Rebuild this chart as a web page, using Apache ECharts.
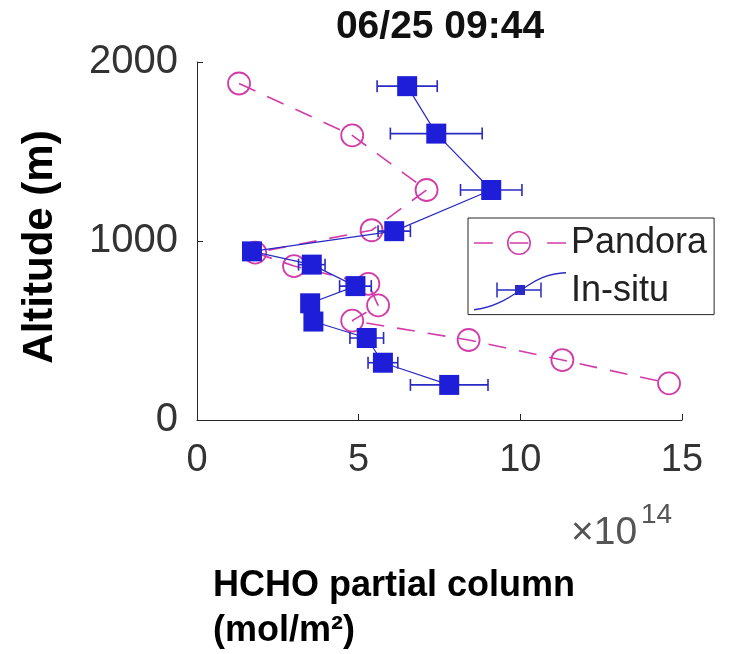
<!DOCTYPE html>
<html>
<head>
<meta charset="utf-8">
<script src="https://cdn.jsdelivr.net/npm/echarts@6/dist/echarts.min.js"></script>
<style>
html, body { margin: 0; padding: 0; background: #fff; }
#chart { width: 732px; height: 654px; }
</style>
</head>
<body>
<div id="chart"></div>
<script>
// 数据：Pandora 反演的分层柱浓度（单位 1e14 mol/m2）与高度
const pandoraX = [1.3, 4.8, 7.1, 5.4, 1.8, 3.0, 5.3, 5.6, 4.8, 8.4, 11.3, 14.6];
const pandoraAlt = [1880, 1590, 1285, 1060, 935, 860, 760, 640, 555, 447, 335, 205];
// 飞机实测数据及误差
const insituX = [6.5, 7.4, 9.1, 6.1, 1.7, 3.55, 4.9, 3.5, 3.6, 5.25, 5.75, 7.8];
const insituAlt = [1865, 1600, 1285, 1055, 942, 868, 748, 652, 550, 458, 320, 196];
const insituErr = [0.93, 1.42, 0.95, 0.5, 0.1, 0.41, 0.49, 0.15, 0.15, 0.52, 0.46, 1.2];
const xTicks = [0, 5, 10, 15];
const yTicks = [0, 1000, 2000];

const fontName = "'Liberation Sans', Arial, Helvetica, sans-serif";
const magenta = '#d23ca8';
const blue = '#1e1ed8';
const blueLine = '#2a2ac4';
const axisColor = '#262626';

// 图例的图标（路径）
const pandoraIcon = 'path://M2 11.25 H20 V12.75 H2 Z M72 11.25 H90 V12.75 H72 Z ' +
    'M33.5 12 A11.5 11.5 0 1 0 56.5 12 A11.5 11.5 0 1 0 33.5 12 Z ' +
    'M35 12 A10 10 0 1 1 55 12 A10 10 0 1 1 35 12 Z ' +
    'M36 11.25 H54 V12.75 H36 Z';
const insituIcon = 'path://M0 38 C18 36 30 29 46 19 C60 10 70 2 92 1 L92 2.6 C70 3.6 60 11.6 46 20.6 C30 30.6 18 37.6 0 39.6 Z ' +
    'M23 18.25 H67 V19.75 H23 Z ' +
    'M22.25 11.5 H23.75 V26.5 H22.25 Z M66.25 11.5 H67.75 V26.5 H66.25 Z ' +
    'M41 14 H51 V24 H41 Z';

let pandoraData = [];
for (let i = 0; i < pandoraX.length; i++) {
    pandoraData.push([pandoraX[i], pandoraAlt[i]]);
}
let insituData = [];
let errData = [];
for (let i = 0; i < insituX.length; i++) {
    insituData.push([insituX[i], insituAlt[i]]);
    errData.push([insituX[i] - insituErr[i], insituX[i] + insituErr[i], insituAlt[i]]);
}

let myChart = echarts.init(document.getElementById('chart'));
let option = {
    animation: false,
    backgroundColor: '#fff',
    textStyle: { fontFamily: fontName },
    title: {
        text: '06/25 09:44',
        left: 440,
        top: 8,
        padding: 0,
        textAlign: 'center',
        textStyle: { fontSize: 39, fontWeight: 'bold', color: '#111', fontFamily: fontName }
    },
    grid: { left: 197, top: 62, width: 485, height: 358, containLabel: false },
    xAxis: {
        type: 'value',
        min: xTicks[0],
        max: xTicks[xTicks.length - 1],
        interval: 5,
        axisLine: { show: true, lineStyle: { color: axisColor, width: 1 } },
        axisTick: { show: true, inside: true, length: 6, lineStyle: { color: axisColor } },
        splitLine: { show: false },
        axisLabel: { fontSize: 38, color: '#333', margin: 22, fontFamily: fontName }
    },
    yAxis: {
        type: 'value',
        min: yTicks[0],
        max: yTicks[yTicks.length - 1],
        interval: 1000,
        axisLine: { show: true, lineStyle: { color: axisColor, width: 1 } },
        axisTick: { show: true, inside: true, length: 6, lineStyle: { color: axisColor } },
        splitLine: { show: false },
        axisLabel: {
            fontSize: 40, color: '#333', margin: 19, fontFamily: fontName,
            formatter: function (v) { return String(v); }
        }
    },
    legend: {
        orient: 'vertical',
        left: 468,
        top: 218,
        padding: [7, 7, 4, 6],
        itemGap: 11,
        itemWidth: 92,
        itemHeight: 39,
        symbolKeepAspect: true,
        backgroundColor: '#fff',
        borderColor: axisColor,
        borderWidth: 1,
        borderRadius: 0,
        textStyle: { fontSize: 36, color: '#222', fontFamily: fontName },
        data: [
            { name: 'Pandora', icon: pandoraIcon, itemStyle: { color: magenta, borderWidth: 0 } },
            { name: 'In-situ', icon: insituIcon, itemStyle: { color: blueLine, borderWidth: 0 } }
        ]
    },
    graphic: [
        {
            type: 'text', x: 40, y: 247, rotation: Math.PI / 2,
            style: {
                text: 'Altitude (m)', fontSize: 42, fontWeight: 'bold', fontFamily: fontName, fill: '#000',
                align: 'center', verticalAlign: 'middle', textAlign: 'center', textVerticalAlign: 'middle'
            }
        },
        {
            type: 'text', x: 571, y: 533,
            style: {
                text: '×10', fontSize: 39, fontFamily: fontName, fill: '#555',
                align: 'left', verticalAlign: 'middle', textAlign: 'left', textVerticalAlign: 'middle'
            }
        },
        {
            type: 'text', x: 641, y: 515,
            style: {
                text: '14', fontSize: 28, fontFamily: fontName, fill: '#555',
                align: 'left', verticalAlign: 'middle', textAlign: 'left', textVerticalAlign: 'middle'
            }
        },
        {
            type: 'text', x: 213, y: 586,
            style: {
                text: 'HCHO partial column', fontSize: 36, fontWeight: 'bold', fontFamily: fontName, fill: '#000',
                align: 'left', verticalAlign: 'middle', textAlign: 'left', textVerticalAlign: 'middle'
            }
        },
        {
            type: 'text', x: 213, y: 631,
            style: {
                text: '(mol/m²)', fontSize: 36, fontWeight: 'bold', fontFamily: fontName, fill: '#000',
                align: 'left', verticalAlign: 'middle', textAlign: 'left', textVerticalAlign: 'middle'
            }
        }
    ],
    series: [
        {
            name: 'Pandora',
            type: 'line',
            data: pandoraData,
            symbol: 'circle',
            symbolSize: 22,
            silent: true,
            itemStyle: { color: 'rgba(0,0,0,0)', borderColor: magenta, borderWidth: 1.8 },
            lineStyle: { color: magenta, width: 1.6, type: [18, 13] },
            z: 2
        },
        {
            name: 'In-situ err',
            type: 'custom',
            data: errData,
            silent: true,
            encode: { x: [0, 1], y: 2 },
            renderItem: function (params, api) {
                let y = api.value(2);
                let lo = api.coord([api.value(0), y]);
                let hi = api.coord([api.value(1), y]);
                let h = 6;
                let st = { stroke: blueLine, lineWidth: 1.6, fill: null };
                return {
                    type: 'group',
                    children: [
                        { type: 'line', shape: { x1: lo[0], y1: lo[1], x2: hi[0], y2: hi[1] }, style: st },
                        { type: 'line', shape: { x1: lo[0], y1: lo[1] - h, x2: lo[0], y2: lo[1] + h }, style: st },
                        { type: 'line', shape: { x1: hi[0], y1: hi[1] - h, x2: hi[0], y2: hi[1] + h }, style: st }
                    ]
                };
            },
            z: 3
        },
        {
            name: 'In-situ',
            type: 'line',
            data: insituData,
            symbol: 'rect',
            symbolSize: 20,
            silent: true,
            itemStyle: { color: blue },
            lineStyle: { color: blueLine, width: 1.2 },
            z: 4
        }
    ]
};
myChart.setOption(option);
</script>
</body>
</html>
